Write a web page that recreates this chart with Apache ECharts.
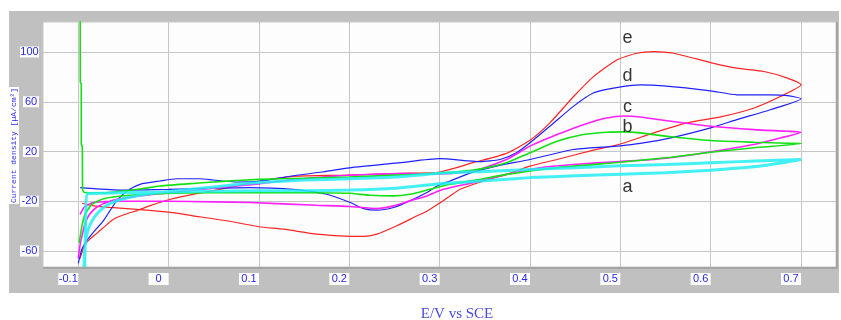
<!DOCTYPE html>
<html>
<head>
<meta charset="utf-8">
<script src="https://cdn.jsdelivr.net/npm/echarts@6/dist/echarts.min.js"></script>
<style>
  html, body { margin: 0; padding: 0; background: #ffffff; }
  #chart { width: 841px; height: 320px; }
</style>
</head>
<body>
<div id="chart"></div>
<script>
// Axis ticks
const xTicks = [-0.1, 0, 0.1, 0.2, 0.3, 0.4, 0.5, 0.6, 0.7];
const yTicks = [-60, -20, 20, 60, 100];

// Cyclic voltammograms: [E (V vs SCE), j (µA/cm²)], anodic sweep then cathodic sweep
const curveA = [
  [-0.094, -80], [-0.093, -60], [-0.09, -45], [-0.085, -36], [-0.078, -29], [-0.068, -23],
  [-0.055, -19], [-0.035, -15.5], [-0.01, -13], [0.03, -10], [0.07, -7], [0.1, -5],
  [0.15, -3], [0.2, -2], [0.25, -0.5], [0.3, 2.5], [0.35, 4], [0.4, 5.5], [0.45, 7],
  [0.5, 8.5], [0.55, 9.5], [0.6, 11], [0.65, 12.3], [0.7, 13.5],
  [0.68, 11], [0.65, 8], [0.6, 5], [0.55, 3], [0.5, 1.8], [0.45, 0.5], [0.4, -1],
  [0.35, -3.5], [0.3, -6], [0.25, -9.5], [0.2, -11], [0.15, -11.5], [0.1, -11.5],
  [0.05, -12], [0, -12.5], [-0.04, -13], [-0.07, -13.5], [-0.09, -14], [-0.092, -40], [-0.093, -80]
];

const curveB = [
  [-0.0979, 150], [-0.0978, 76], [-0.0967, 74], [-0.0967, 26], [-0.0956, 24], [-0.0952, -11],
  [-0.093, -13], [-0.08, -13.2], [-0.06, -12.5], [-0.03, -10], [-0.0095, -7.7], [0.03, -5.5],
  [0.06, -4], [0.101, -2.4], [0.15, -1.5], [0.2, -0.5], [0.25, 1], [0.3, 2.5], [0.337, 5],
  [0.374, 11], [0.4, 19], [0.43, 28.2], [0.459, 33.6], [0.485, 35.5], [0.505, 35.8],
  [0.522, 35], [0.556, 31.8], [0.6, 28.8], [0.648, 27.4], [0.685, 26.6], [0.7, 26.4],
  [0.648, 23], [0.6, 19.4], [0.556, 15.4], [0.5, 11.4], [0.43, 7], [0.374, 1.6], [0.34, -3],
  [0.3115, -6.4], [0.289, -10.4], [0.267, -14.4], [0.249, -15.7], [0.223, -15.2], [0.2, -13.6],
  [0.15, -13.2], [0.101, -13.2], [0.046, -13.2], [-0.0095, -14], [-0.046, -15.4], [-0.072, -18],
  [-0.085, -22.6], [-0.0926, -30.6], [-0.096, -40], [-0.099, -53.4]
];

const curveC = [
  [-0.1, -66], [-0.098, -55], [-0.095, -45], [-0.092, -37], [-0.088, -31], [-0.08, -25],
  [-0.065, -20], [-0.04, -16.5], [-0.01, -14], [0.03, -11], [0.07, -8], [0.1, -6], [0.14, -2.5],
  [0.18, 0], [0.22, 1.5], [0.26, 2.2], [0.3, 2], [0.337, 4.3], [0.374, 13.6], [0.4, 24.3],
  [0.43, 33.6], [0.459, 41.6], [0.485, 47], [0.505, 48.5], [0.522, 47.7], [0.556, 44.3],
  [0.6, 40.3], [0.648, 37.6], [0.685, 36.3], [0.7, 35.5],
  [0.678, 31], [0.648, 25.6], [0.611, 21], [0.574, 16.8], [0.537, 13.6], [0.5, 12],
  [0.448, 9.6], [0.411, 7], [0.374, 1.6], [0.337, -5], [0.304, -10.4], [0.286, -15.7],
  [0.267, -19.7], [0.249, -23.7], [0.2305, -25.9], [0.2, -24.2], [0.164, -23.2], [0.09, -21],
  [0.05, -20.5], [0, -20], [-0.05, -20], [-0.083, -21], [-0.093, -24.4], [-0.098, -30.6]
];

const curveD = [
  [-0.1, -70], [-0.098, -63.7], [-0.096, -58.4], [-0.0907, -51.8], [-0.0834, -45], [-0.0723, -35.7],
  [-0.065, -27.7], [-0.0575, -19.7], [-0.046, -11.7], [-0.0317, -6.4], [-0.0095, -3.7],
  [0.009, -1.9], [0.0348, -1.9], [0.0495, -2.9], [0.075, -4.5], [0.1, -4], [0.138, 0.5],
  [0.17, 3.5], [0.2, 6.9], [0.256, 11], [0.3, 14.2], [0.3445, 11.8], [0.367, 13.6], [0.385, 19],
  [0.4, 27], [0.422, 40.3], [0.448, 56.3], [0.47, 67], [0.4925, 71], [0.522, 73.6], [0.548, 72.8],
  [0.6, 68.8], [0.629, 65.6], [0.666, 65.6], [0.685, 65], [0.7, 62.4],
  [0.666, 53.6], [0.629, 45.6], [0.6, 39], [0.556, 31], [0.522, 26.5], [0.5, 24.5], [0.485, 23.7],
  [0.448, 21.6], [0.4, 13.6], [0.363, 8.3], [0.335, 3], [0.3115, -3.7], [0.297, -7.7],
  [0.286, -13], [0.267, -19.7], [0.249, -25], [0.2305, -27.2], [0.2157, -25.9], [0.2009, -21],
  [0.175, -14.4], [0.138, -10.4], [0.09, -9], [0.05, -9.5], [0, -10.5], [-0.05, -11],
  [-0.08, -10], [-0.098, -9]
];

const curveE = [
  [-0.098, -66], [-0.095, -59], [-0.092, -54], [-0.087, -50.4], [-0.08, -46], [-0.072, -41],
  [-0.061, -34.4], [-0.046, -30], [-0.035, -27.5], [-0.021, -23.7], [0.002, -18.4], [0.027, -14.4],
  [0.057, -10.4], [0.083, -6.4], [0.101, -3.7], [0.138, 0], [0.197, 1], [0.256, 2.4], [0.3, 3.5],
  [0.337, 11], [0.374, 18.5], [0.4, 29], [0.422, 43], [0.448, 64], [0.47, 80], [0.496, 93.6],
  [0.518, 99], [0.537, 100.3], [0.559, 99], [0.6, 91.5], [0.629, 87], [0.659, 84.3], [0.685, 79],
  [0.7, 73.6],
  [0.677, 64.2], [0.648, 55], [0.611, 47.8], [0.574, 43], [0.537, 35], [0.5, 26], [0.466, 20.3],
  [0.43, 13.6], [0.4, 8.3], [0.374, 1.6], [0.3485, -3.7], [0.3227, -10.4], [0.311, -16],
  [0.3, -21.5], [0.286, -28], [0.275, -31.7], [0.2526, -39.7], [0.2305, -46.4], [0.215, -48.3],
  [0.2, -48.2], [0.164, -46.4], [0.127, -42.4], [0.1, -40.5], [0.064, -35.7], [0.027, -31.7],
  [0.002, -29], [-0.028, -27], [-0.065, -25], [-0.083, -23.7], [-0.096, -21.6]
];

// Curve identifiers placed beside the anodic peaks
const curveNames = ['a', 'b', 'c', 'd', 'e'];
const namePoints = [[0.508, -8.4], [0.508, 39.6], [0.508, 55.7], [0.508, 80.9], [0.508, 111.2]];

const blueText = '#2626f4';
const plot = { left: 43, top: 22, width: 793, height: 245 };

const chart = echarts.init(document.getElementById('chart'), null, { renderer: 'canvas' });

function curve(data, color, width, z, opacity) {
  return {
    type: 'line', data: data, symbol: 'none', smooth: 0.2, clip: true, z: z,
    lineStyle: { color: color, width: width, opacity: opacity == null ? 1 : opacity },
    silent: true, animation: false
  };
}

chart.setOption({
  animation: false,
  backgroundColor: '#ffffff',
  grid: { left: plot.left, top: plot.top, width: plot.width, height: plot.height, containLabel: false },
  graphic: [
    { type: 'rect', z: -100, silent: true,
      shape: { x: 9, y: 11, width: 830, height: 282 }, style: { fill: '#c0c0c0' } },
    { type: 'rect', z: -99, silent: true,
      shape: { x: plot.left, y: plot.top, width: plot.width, height: plot.height },
      style: { fill: '#fdfdfd', stroke: '#c8c8c8', lineWidth: 1 } },
    { type: 'polyline', z: 50, silent: true,
      shape: { points: [[plot.left, plot.top + plot.height + 1], [plot.left + plot.width + 1, plot.top + plot.height + 1], [plot.left + plot.width + 1, plot.top]] },
      style: { stroke: '#a4a4a4', lineWidth: 2, fill: null } },
    { type: 'text', z: 60, silent: true, x: 14, y: 145.5, rotation: Math.PI / 2,
      style: { text: 'Current density [µA/cm²]', font: '8px "Liberation Mono", "DejaVu Sans Mono", monospace',
               fill: blueText, align: 'center', verticalAlign: 'middle',
               backgroundColor: '#ffffff', padding: [1, 1, 1, 1] } },
    { type: 'text', z: 60, silent: true, x: 457, y: 314,
      style: { text: 'E/V vs SCE', font: '15px "Liberation Serif", "DejaVu Serif", serif',
               fill: '#4a4ae0', align: 'center', verticalAlign: 'middle' } }
  ],
  xAxis: {
    type: 'value', min: -0.13907, max: 0.73872,
    axisLine: { show: false },
    axisTick: { show: false, customValues: xTicks },
    splitLine: { show: true, lineStyle: { color: '#c6c6c6', width: 1 } },
    axisLabel: {
      customValues: xTicks, align: 'right', margin: 6,
      formatter: v => '{t|' + v + '}',
      rich: { t: { width: 20, height: 12, lineHeight: 12, align: 'center', backgroundColor: '#ffffff',
                   color: blueText, fontSize: 11, fontFamily: '"Liberation Sans", Arial, sans-serif' } }
    }
  },
  yAxis: {
    type: 'value', min: -72.86, max: 124.12,
    axisLine: { show: false },
    axisTick: { show: false, customValues: yTicks },
    splitLine: { show: true, lineStyle: { color: '#c6c6c6', width: 1 } },
    axisLabel: {
      customValues: yTicks, margin: 4,
      formatter: v => (String(v).length > 2 ? '{l|' : '{s|') + v + '}',
      rich: {
        s: { width: 16, height: 11, lineHeight: 11, align: 'center', backgroundColor: '#ffffff',
             color: blueText, fontSize: 11, fontFamily: '"Liberation Sans", Arial, sans-serif' },
        l: { width: 19, height: 11, lineHeight: 11, align: 'center', backgroundColor: '#ffffff',
             color: blueText, fontSize: 11, fontFamily: '"Liberation Sans", Arial, sans-serif' }
      }
    }
  },
  series: [
    curve(curveE, '#ff2424', 1.2, 3),
    curve(curveD, '#2020ff', 1.2, 4),
    curve(curveC, '#ff20ff', 1.6, 5),
    curve(curveB, '#14e014', 1.6, 6),
    curve(curveA, '#22eef2', 3, 7, 0.85),
    {
      type: 'scatter', symbolSize: 0, silent: true, z: 20,
      data: namePoints.map((p, i) => ({ value: p, name: curveNames[i] })),
      label: { show: true, position: 'inside', formatter: '{b}', color: '#000000',
               fontSize: 18, fontFamily: '"Liberation Sans", Arial, sans-serif' }
    }
  ]
});
</script>
</body>
</html>
